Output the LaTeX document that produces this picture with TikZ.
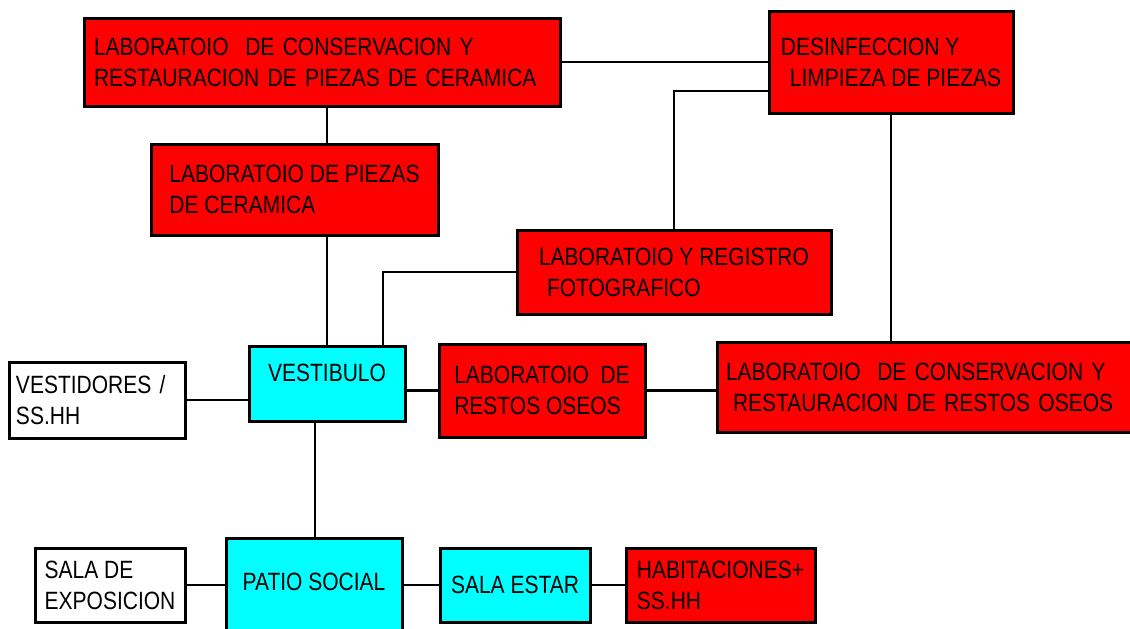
\documentclass[tikz,border=0pt]{standalone}
\usepackage{fontspec}
\setmainfont{Liberation Sans}[FakeStretch=0.84]
\usepackage{tikz}
\definecolor{labred}{RGB}{255,0,0}
\definecolor{hallcyan}{RGB}{0,255,255}
\tikzset{
  room/.style={draw=black, line width=3pt, anchor=north west, outer sep=0pt,
    inner ysep=0pt, align=left, font=\fontsize{25}{31}\selectfont},
  labroom/.style={room, fill=labred},
  hallroom/.style={room, fill=hallcyan},
  plainroom/.style={room, fill=white},
  link/.style={draw=black, line width=2.6pt},
}

\begin{document}
\begin{tikzpicture}[x=1pt, y=-1pt]
\useasboundingbox (0,0) rectangle (1130,629);
\clip (0,0) rectangle (1130,629);
% Ceramic labs (top left)
\node[labroom, minimum width=476pt, minimum height=88pt, inner xsep=10pt, text width=456pt]
  (cercons) at (84,18) {LABORATOIO\ \ DE CONSERVACION Y\\RESTAURACION DE PIEZAS DE CERAMICA};
\node[labroom, minimum width=287pt, minimum height=91pt] (cerlab) at (151,144)
  {LABORATOIO DE PIEZAS\\DE CERAMICA};
% Cleaning and photo record
\node[labroom, minimum width=244pt, minimum height=102pt] (desinf) at (769,11)
  {DESINFECCION Y\\\hspace*{9pt}LIMPIEZA DE PIEZAS};
\node[labroom, minimum width=314pt, minimum height=84pt] (foto) at (517,230)
  {LABORATOIO Y REGISTRO\\\hspace*{8pt}FOTOGRAFICO};
% Middle row
\node[plainroom, minimum width=176pt, minimum height=76pt, inner xsep=7pt, text width=162pt]
  (vestid) at (9,362) {VESTIDORES /\\SS.HH};
\node[hallroom, minimum width=156pt, minimum height=75pt, text depth=22pt] (vest) at (249,346)
  {VESTIBULO};
\node[labroom, minimum width=206pt, minimum height=93pt] (restos) at (439,344)
  {LABORATOIO\ \ DE\\RESTOS OSEOS};
\node[labroom, minimum width=430pt, minimum height=90pt, inner xsep=9pt, text width=412pt]
  (conshues) at (717,342) {LABORATOIO\ \ DE CONSERVACION Y\\\hspace*{7pt}RESTAURACION DE RESTOS OSEOS};
% Bottom row
\node[plainroom, minimum width=150pt, minimum height=74pt] (salaexp) at (35,548)
  {SALA DE\\EXPOSICION};
\node[hallroom, minimum width=176pt, minimum height=105pt, text depth=18pt] (patio) at (226,538)
  {PATIO SOCIAL};
\node[hallroom, minimum width=150pt, minimum height=74pt] (estar) at (440,548)
  {SALA ESTAR};
\node[labroom, minimum width=189pt, minimum height=74pt] (habit) at (626,548)
  {HABITACIONES+\\SS.HH};
% Upper links
\draw[link] (cercons.east) -- (desinf.west);
\draw[link] (cercons.south -| vest.north) -- (cerlab.north -| vest.north);
\draw[link] (cerlab.south -| vest.north) -- (vest.north);
\draw[link] (foto.west) -| ([xshift=-22pt]vest.north east);
\draw[link] (foto.north) |- ([yshift=-29pt]desinf.west);
\draw[link] (desinf.south) -- (desinf.south |- conshues.north);
% Middle links
\draw[link] (vestid.east) -- (vestid.east -| vest.west);
\draw[link] (restos.west -| vest.east) -- (restos.west);
\draw[link] (restos.east) -- (restos.east -| conshues.west);
\draw[link] ([xshift=-12pt]vest.south) -- ([xshift=-12pt]vest.south |- patio.north);
% Lower links
\draw[link] (salaexp.east) -- (salaexp.east -| patio.west);
\draw[link] (estar.west -| patio.east) -- (estar.west);
\draw[link] (estar.east) -- (habit.west);
\end{tikzpicture}
\end{document}
